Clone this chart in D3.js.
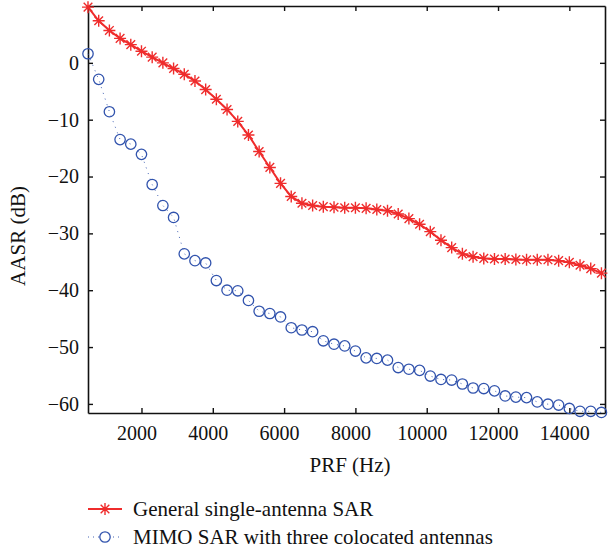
<!DOCTYPE html>
<html>
<head>
<meta charset="utf-8">
<script src="https://cdn.jsdelivr.net/npm/d3@7"></script>
<style>
  body { margin: 0; background: #fff; }
  text { font-family: "Liberation Serif", "DejaVu Serif", serif; fill: #111; }
</style>
</head>
<body>
<div id="plot"></div>
<script>
"use strict";

// PRF sample points (Hz): 500, 800, ... 14900
const prf = [500, 800, 1100, 1400, 1700, 2000, 2300, 2600, 2900, 3200,
    3500, 3800, 4100, 4400, 4700, 5000, 5300, 5600, 5900, 6200,
    6500, 6800, 7100, 7400, 7700, 8000, 8300, 8600, 8900, 9200,
    9500, 9800, 10100, 10400, 10700, 11000, 11300, 11600, 11900, 12200,
    12500, 12800, 13100, 13400, 13700, 14000, 14300, 14600, 14900];

// AASR (dB), general single-antenna SAR
const aasrSingle = [9.8, 7.4, 5.7, 4.3, 3.2, 2.05, 1.0, 0.0, -1.0, -2.0,
    -3.2, -4.7, -6.4, -8.2, -10.3, -12.7, -15.6, -18.4, -21.2, -23.5,
    -24.7, -25.1, -25.3, -25.4, -25.5, -25.5, -25.6, -25.8, -26.0, -26.6,
    -27.4, -28.4, -29.7, -31.2, -32.5, -33.6, -34.1, -34.4, -34.5, -34.5,
    -34.6, -34.65, -34.65, -34.65, -34.8, -35.1, -35.6, -36.2, -37.0];

// AASR (dB), MIMO SAR with three colocated antennas
const aasrMimo = [1.6, -2.9, -8.6, -13.5, -14.3, -16.1, -21.4, -25.1, -27.2, -33.6,
    -34.8, -35.2, -38.3, -40.0, -40.1, -41.8, -43.7, -44.1, -44.7, -46.6,
    -47.0, -47.3, -48.9, -49.5, -49.8, -50.7, -51.9, -52.0, -52.3, -53.6,
    -53.9, -54.1, -55.1, -55.7, -55.8, -56.5, -57.2, -57.3, -57.7, -58.6,
    -58.8, -58.9, -59.65, -60.05, -60.2, -60.8, -61.3, -61.3, -61.5];

const xTicks = [2000, 4000, 6000, 8000, 10000, 12000, 14000];
const yTicks = [-60, -50, -40, -30, -20, -10, 0];
const seriesNames = ["General single-antenna SAR", "MIMO SAR with three colocated antennas"];

const msm = {
    width: 608,
    height: 554,
    left: 88,
    right: 605,
    top: 6,
    bottom: 413
};

const red = "#ef2c2c";
const blue = "#3153ad";

const svg = d3.select("#plot")
    .append("svg")
    .attr("width", msm.width)
    .attr("height", msm.height);

const xScale = d3.scaleLinear()
    .domain([500, 15000])
    .range([msm.left, msm.right]);

const yScale = d3.scaleLinear()
    .domain([-61.6, 10])
    .range([msm.bottom, msm.top]);

// axes on all four sides, ticks pointing inward (matlab box)
function drawAxes() {
    const fmt = d3.format("d");
    svg.append("g")
        .attr("class", "x-bottom")
        .attr("transform", "translate(0," + msm.bottom + ")")
        .call(d3.axisBottom(xScale).tickValues(xTicks).tickSizeInner(-5).tickSizeOuter(0).tickPadding(13).tickFormat(fmt));
    svg.append("g")
        .attr("transform", "translate(0," + msm.top + ")")
        .call(d3.axisTop(xScale).tickValues(xTicks).tickSizeInner(-5).tickSizeOuter(0).tickFormat(""));
    svg.append("g")
        .attr("class", "y-left")
        .attr("transform", "translate(" + msm.left + ",0)")
        .call(d3.axisLeft(yScale).tickValues(yTicks).tickSizeInner(-5).tickSizeOuter(0).tickPadding(9));
    svg.append("g")
        .attr("transform", "translate(" + msm.right + ",0)")
        .call(d3.axisRight(yScale).tickValues(yTicks).tickSizeInner(-5).tickSizeOuter(0).tickFormat(""));

    svg.selectAll(".domain").attr("stroke", "#111").attr("stroke-width", 1.6);
    svg.selectAll(".tick line").attr("stroke", "#111").attr("stroke-width", 1.4);
    svg.selectAll(".tick text")
        .style("font-family", "'Liberation Serif', serif")
        .style("font-size", "20px")
        .attr("fill", "#111");
    svg.selectAll(".x-bottom .tick text").attr("dx", -5);
}

function drawLabels() {
    svg.append("text")
        .attr("x", 350)
        .attr("y", 472)
        .attr("text-anchor", "middle")
        .style("font-size", "21px")
        .text("PRF (Hz)");

    svg.append("text")
        .attr("transform", "translate(25,236) rotate(-90)")
        .attr("text-anchor", "middle")
        .style("font-size", "21px")
        .text("AASR (dB)");
}

function starPath(cx, cy, r) {
    const d = r * 0.72;
    return "M" + (cx - r) + "," + cy + "H" + (cx + r) +
        "M" + cx + "," + (cy - r) + "V" + (cy + r) +
        "M" + (cx - d) + "," + (cy - d) + "L" + (cx + d) + "," + (cy + d) +
        "M" + (cx - d) + "," + (cy + d) + "L" + (cx + d) + "," + (cy - d);
}

function plotData() {
    const single = prf.map((p, i) => ({ x: p, y: aasrSingle[i] }));
    const mimo = prf.map((p, i) => ({ x: p, y: aasrMimo[i] }));

    const line = d3.line()
        .x(d => xScale(d.x))
        .y(d => yScale(d.y));

    // MIMO dotted line + circles
    svg.append("path")
        .datum(mimo)
        .attr("d", line)
        .attr("fill", "none")
        .attr("stroke", blue)
        .attr("stroke-width", 0.9)
        .attr("stroke-dasharray", "1,5");

    svg.append("g")
        .selectAll("circle")
        .data(mimo)
        .enter()
        .append("circle")
        .attr("cx", d => xScale(d.x))
        .attr("cy", d => yScale(d.y))
        .attr("r", 5.2)
        .attr("fill", "none")
        .attr("stroke", blue)
        .attr("stroke-width", 1.3);

    // single-antenna solid line + stars
    svg.append("path")
        .datum(single)
        .attr("d", line)
        .attr("fill", "none")
        .attr("stroke", red)
        .attr("stroke-width", 2);

    svg.append("g")
        .selectAll("path")
        .data(single)
        .enter()
        .append("path")
        .attr("d", d => starPath(xScale(d.x), yScale(d.y), 6))
        .attr("fill", "none")
        .attr("stroke", red)
        .attr("stroke-width", 1.4);
}

function drawLegend() {
    const lx0 = 88, lx1 = 122, mx = 105;
    const rows = [509, 537];

    svg.append("line")
        .attr("x1", lx0).attr("x2", lx1)
        .attr("y1", rows[0]).attr("y2", rows[0])
        .attr("stroke", red).attr("stroke-width", 2);
    svg.append("path")
        .attr("d", starPath(mx, rows[0], 6))
        .attr("fill", "none").attr("stroke", red).attr("stroke-width", 1.4);

    svg.append("line")
        .attr("x1", lx0).attr("x2", lx1)
        .attr("y1", rows[1]).attr("y2", rows[1])
        .attr("stroke", blue).attr("stroke-width", 0.9)
        .attr("stroke-dasharray", "1,4");
    svg.append("circle")
        .attr("cx", mx).attr("cy", rows[1]).attr("r", 5.2)
        .attr("fill", "#fff").attr("stroke", blue).attr("stroke-width", 1.3);

    seriesNames.forEach((name, i) => {
        svg.append("text")
            .attr("x", 133)
            .attr("y", rows[i] + 7)
            .style("font-size", "21px")
            .text(name);
    });
}

drawAxes();
drawLabels();
plotData();
drawLegend();
</script>
</body>
</html>
